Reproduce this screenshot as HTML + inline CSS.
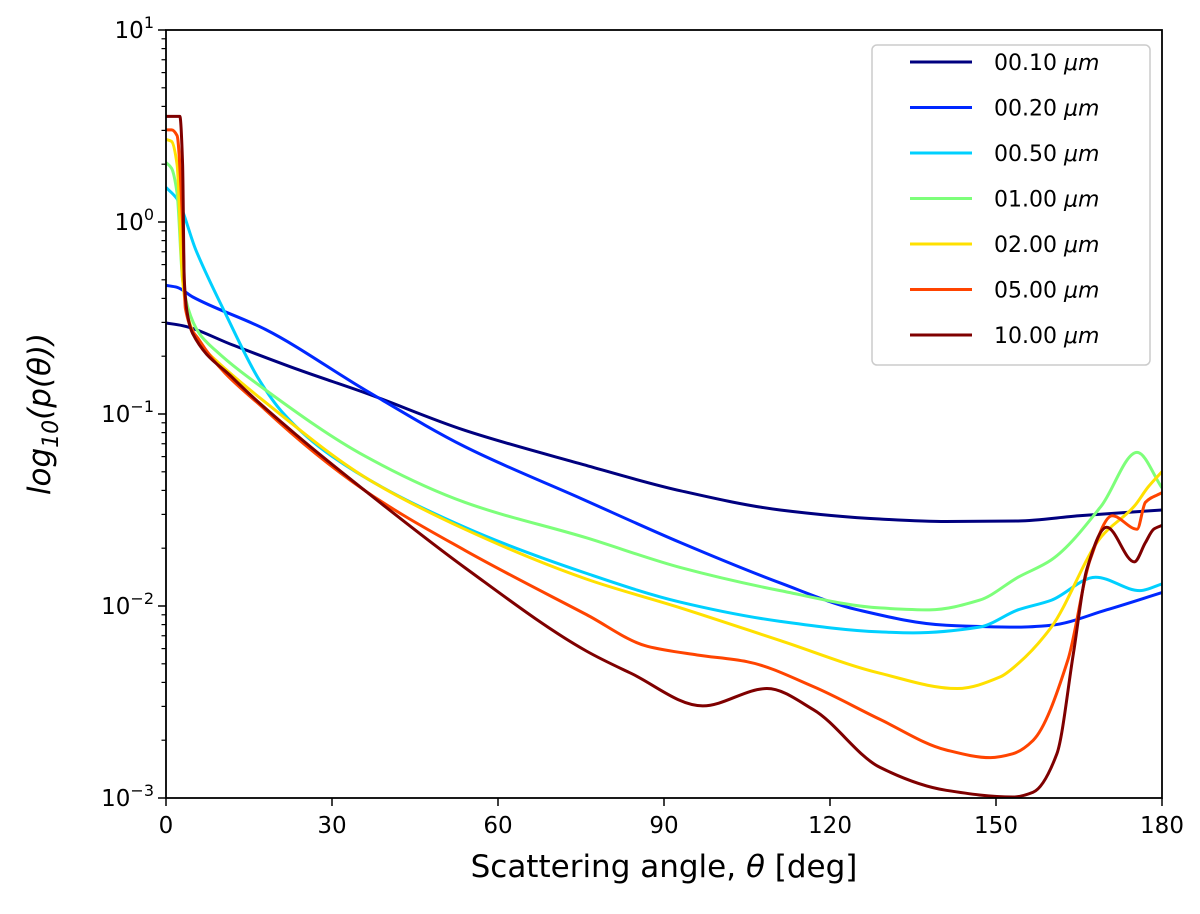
<!DOCTYPE html>
<html><head><meta charset="utf-8"><style>
body{margin:0;background:#fff;}
svg text{font-family:"DejaVu Sans","Liberation Sans",sans-serif;}
</style></head><body>
<svg id="chart" width="1200" height="909" xmlns="http://www.w3.org/2000/svg"></svg>
<script>
const xTicks=[0,30,60,90,120,150,180];
const yDecades=[-3,-2,-1,0,1];
const seriesLabels=["00.10","00.20","00.50","01.00","02.00","05.00","10.00"];
const seriesColors=["#00007f","#0028ff","#00d0ff","#7dff7a","#ffe000","#ff4400","#7f0000"];
const ang0=[0,3,12,24,36,54,75,93,111,129,141,154,165,180];
const val0=[-0.526,-0.54,-0.64,-0.77,-0.89,-1.085,-1.26,-1.40,-1.50,-1.547,-1.56,-1.557,-1.53,-1.50];
const ang1=[0,2,4.8,18,36,54,75,93,111,125,141,154,160,170,180];
const val1=[-0.33,-0.34,-0.39,-0.56,-0.875,-1.17,-1.44,-1.67,-1.88,-2.02,-2.10,-2.11,-2.10,-2.02,-1.93];
const ang2=[0,2,5.4,10.8,16.8,21,30,54,76,93,111,129,135,147,154,160,168,176,180];
const val2=[0.18,0.12,-0.146,-0.48,-0.82,-0.99,-1.22,-1.59,-1.83,-1.98,-2.08,-2.135,-2.14,-2.11,-2.02,-1.97,-1.85,-1.92,-1.885];
const ang3=[0,1,2,3,4,6,9,18,36,54,76,93,111,129,138,147,154,160,169,175.5,180];
const val3=[0.31,0.28,0.15,-0.3,-0.45,-0.58,-0.67,-0.875,-1.22,-1.46,-1.645,-1.80,-1.92,-2.01,-2.02,-1.97,-1.85,-1.76,-1.48,-1.20,-1.385];
const ang4=[0,1,2,3,4,6,9,18,36,54,76,93,111,129,143,150.7,154,160,169,175,177.5,180];
const val4=[0.43,0.42,0.30,-0.3,-0.5,-0.63,-0.72,-0.94,-1.33,-1.60,-1.86,-2.01,-2.18,-2.35,-2.43,-2.37,-2.30,-2.11,-1.64,-1.48,-1.38,-1.30];
const ang5=[0,1,2,3,3.5,6,18,36,54,76,87,96,105,117,129,141,149,153,156.7,163,167,171,175.5,177,180];
const val5=[0.48,0.48,0.45,0,-0.45,-0.615,-0.98,-1.40,-1.71,-2.045,-2.21,-2.255,-2.29,-2.42,-2.59,-2.75,-2.79,-2.77,-2.70,-2.28,-1.76,-1.53,-1.60,-1.46,-1.41];
const ang6=[0,2.5,3,3.3,4,4.8,12,24,36,54,76,84,97,108.6,117,129,141,153,156.7,161,164,166.4,170,175,177,178.5,180];
const val6=[0.55,0.55,0.3,-0.3,-0.5,-0.58,-0.81,-1.12,-1.40,-1.80,-2.235,-2.35,-2.52,-2.43,-2.54,-2.84,-2.96,-2.995,-2.97,-2.77,-2.245,-1.81,-1.59,-1.77,-1.67,-1.60,-1.58];
const angs=[ang0,ang1,ang2,ang3,ang4,ang5,ang6];
const vals=[val0,val1,val2,val3,val4,val5,val6];

const L=166,R=1162,T=30,B=798;
const xS=a=>L+(a/180)*(R-L);
const yS=lg=>B-(lg+3)/4*(B-T);
const NS="http://www.w3.org/2000/svg";
const svg=document.getElementById('chart');
function mk(t,a,p){const e=document.createElementNS(NS,t);for(const k in a)e.setAttribute(k,a[k]);(p||svg).appendChild(e);return e;}

const clip=mk('clipPath',{id:'cp'});mk('rect',{x:L,y:T,width:R-L,height:B-T},clip);
const lines=mk('g',{'clip-path':'url(#cp)'});



function monoPath(xs,ys){
  const n=xs.length,d=[],m=[];
  for(let i=0;i<n-1;i++)d.push((ys[i+1]-ys[i])/(xs[i+1]-xs[i]));
  m[0]=d[0];m[n-1]=d[n-2];
  for(let i=1;i<n-1;i++){ if(d[i-1]*d[i]<=0)m[i]=0; else {const w1=2*(xs[i+1]-xs[i])+(xs[i]-xs[i-1]),w2=(xs[i+1]-xs[i])+2*(xs[i]-xs[i-1]);m[i]=(w1+w2)/(w1/d[i-1]+w2/d[i]);}}
  let p='M'+xs[0]+','+ys[0];
  for(let i=0;i<n-1;i++){const h=xs[i+1]-xs[i];p+=' C'+(xs[i]+h/3)+','+(ys[i]+m[i]*h/3)+' '+(xs[i+1]-h/3)+','+(ys[i+1]-m[i+1]*h/3)+' '+xs[i+1]+','+ys[i+1];}
  return p;
}
for(let s=0;s<7;s++){
  const xs=angs[s].map(xS),ys=vals[s].map(yS);
  const p=mk('path',{d:monoPath(xs,ys),fill:'none',stroke:seriesColors[s],'stroke-width':3},lines);
  
  
}
const fr=mk('rect',{x:L,y:T,width:R-L,height:B-T,fill:'none',stroke:'#000','stroke-width':1.8});


xTicks.forEach(t=>{
  mk('line',{x1:xS(t),x2:xS(t),y1:B,y2:B+8,stroke:'#000','stroke-width':1.5});
  const tx=mk('text',{x:xS(t),y:B+35,'text-anchor':'middle','font-size':23});tx.textContent=t;
  
  
});
yDecades.forEach(dcd=>{
  const y=yS(dcd);
  mk('line',{x1:L-8,x2:L,y1:y,y2:y,stroke:'#000','stroke-width':1.5});
  const tx=mk('text',{x:L-12,y:y+8,'text-anchor':'end','font-size':23});
  tx.innerHTML='10<tspan dy="-10" font-size="16">'+(dcd<0?'\u2212'+(-dcd):dcd)+'</tspan>';
  
  
  if(dcd<1)for(let k=2;k<10;k++){const yy=yS(dcd+Math.log10(k));mk('line',{x1:L-4.5,x2:L,y1:yy,y2:yy,stroke:'#000','stroke-width':1.2});}
});
const xt=mk('text',{x:(L+R)/2,y:877,'text-anchor':'middle','font-size':31});
xt.innerHTML='Scattering angle, <tspan font-style="italic">θ</tspan> [deg]';


const yt=mk('text',{x:0,y:0,'text-anchor':'middle','font-size':31,'font-style':'italic',transform:'translate(50,414) rotate(-90)'});
yt.innerHTML='log<tspan dy="8" font-size="22">10</tspan><tspan dy="-8">(p(θ))</tspan>';


const lg=mk('g',{});


mk('rect',{x:872,y:45,width:278,height:320,rx:5,fill:'#fff',stroke:'#ccc','stroke-width':1.5},lg);
for(let s=0;s<7;s++){
  const y=62+s*45.5;
  const e=mk('g',{},lg);
  
  
  mk('line',{x1:910,x2:972,y1:y,y2:y,stroke:seriesColors[s],'stroke-width':3},e);
  const t=mk('text',{x:994,y:y+8,'font-size':22},e);
  t.innerHTML=seriesLabels[s]+' <tspan font-style="italic">μm</tspan>';
}
</script>
</body></html>
